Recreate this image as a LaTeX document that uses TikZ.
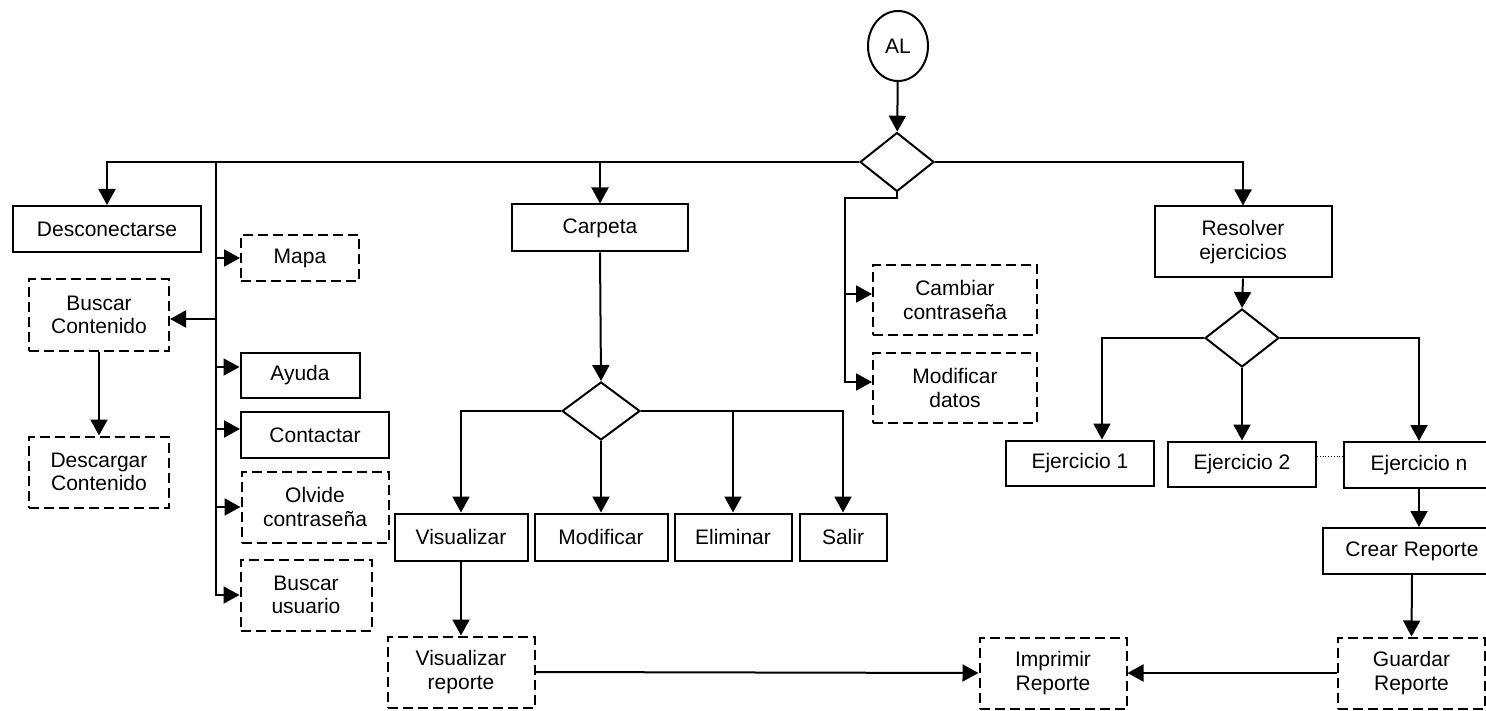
\documentclass[tikz,border=0pt]{standalone}
\usepackage{fontspec}
\setmainfont{Liberation Sans}
\usetikzlibrary{arrows.meta,shapes.geometric,calc}
\begin{document}
\begin{tikzpicture}[x=1pt,y=-1pt,
  line width=2pt,
  box/.style={draw,rectangle,inner sep=0pt,align=center,font=\fontsize{21}{23.5}\selectfont},
  dbox/.style={box,dash pattern=on 10pt off 5pt},
  dec/.style={draw,diamond,inner sep=0pt},
  arr/.style={-{Triangle[length=16pt,width=17pt]}}]
\useasboundingbox (0,0) rectangle (1486,711);
% nodes
\node[draw,ellipse,minimum width=60pt,minimum height=70pt,inner sep=0pt,font=\fontsize{21}{23.5}\selectfont] (al) at (898,46) {AL};
\node[dec,minimum width=74pt,minimum height=59pt] (d1) at (897,162) {};
\node[box,minimum width=188pt,minimum height=46pt] (desc) at (107,229) {Desconectarse};
\node[dbox,minimum width=118pt,minimum height=46pt] (mapa) at (300,258) {Mapa};
\node[dbox,minimum width=140pt,minimum height=72pt] (buscarc) at (99,315) {Buscar\\Contenido};
\node[dbox,minimum width=140pt,minimum height=71pt] (descarg) at (99,472) {Descargar\\Contenido};
\node[box,minimum width=119pt,minimum height=45pt] (ayuda) at (300,375) {Ayuda};
\node[box,minimum width=148pt,minimum height=46pt] (contactar) at (315,435) {Contactar};
\node[dbox,minimum width=147pt,minimum height=71pt] (olvide) at (315,507) {Olvide\\contraseña};
\node[dbox,minimum width=131pt,minimum height=71pt] (buscaru) at (306,595) {Buscar\\usuario};
\node[box,minimum width=176pt,minimum height=47pt] (carpeta) at (600,228) {Carpeta};
\node[dec,minimum width=78pt,minimum height=58pt] (d2) at (601,411) {};
\node[box,minimum width=133pt,minimum height=47pt] (visualizar) at (461,537) {Visualizar};
\node[box,minimum width=133pt,minimum height=47pt] (modificar) at (601,537) {Modificar};
\node[box,minimum width=117pt,minimum height=47pt] (eliminar) at (733,537) {Eliminar};
\node[box,minimum width=87pt,minimum height=47pt] (salir) at (843,537) {Salir};
\node[dbox,minimum width=147pt,minimum height=71pt] (visrep) at (461,672) {Visualizar\\reporte};
\node[dbox,minimum width=147pt,minimum height=71pt] (imprimir) at (1053,673) {Imprimir\\Reporte};
\node[dbox,minimum width=164pt,minimum height=70pt] (cambiar) at (955,300) {Cambiar\\contraseña};
\node[dbox,minimum width=164pt,minimum height=70pt] (moddatos) at (955,388) {Modificar\\datos};
\node[box,minimum width=177pt,minimum height=71pt] (resolver) at (1243,242) {Resolver\\ejercicios};
\node[dec,minimum width=74pt,minimum height=58pt] (d3) at (1242,338) {};
\node[box,minimum width=148pt,minimum height=45pt] (ej1) at (1080,463) {Ejercicio 1};
\node[box,minimum width=148pt,minimum height=45pt] (ej2) at (1242,464) {Ejercicio 2};
\node[box,minimum width=150pt,minimum height=46pt] (ejn) at (1419,465) {Ejercicio n};
\node[box,minimum width=178pt,minimum height=46pt] (crear) at (1412,551) {Crear Reporte};
\node[dbox,minimum width=147pt,minimum height=71pt] (guardar) at (1411.5,673) {Guardar\\Reporte};
\coordinate (tr) at (216,162);
\coordinate (jog) at (845,198);
% connectors
\draw[arr] (al) -- (d1);
\draw[arr] (d1.west) -| (desc.north);
\draw[arr] (tr) |- (buscaru.west);
\draw[arr] (tr |- mapa.west) -- (mapa.west);
\draw[arr] ([yshift=-4pt]tr |- buscarc.east) -- ([yshift=-4pt]buscarc.east);
\draw[arr] ([yshift=8pt]tr |- ayuda.west) -- ([yshift=8pt]ayuda.west);
\draw[arr] ([yshift=6pt]tr |- contactar.west) -- ([yshift=6pt]contactar.west);
\draw[arr] (tr |- olvide.west) -- (olvide.west);
\draw[arr] (buscarc.south) -- (descarg.north);
\draw[arr] (carpeta.north |- d1.west) -- (carpeta.north);
\draw[arr] (carpeta.south) -- (d2.north);
\draw[arr] (d2.west) -| (visualizar.north);
\draw[arr] (d2.south) -- (modificar.north);
\draw[arr] (d2.east) -| (salir.north);
\draw[arr] (eliminar.north |- d2.east) -- (eliminar.north);
\draw[arr] (visualizar.south) -- (visrep.north);
\draw[arr] (visrep.east) -- (imprimir.west);
\draw[arr] (d1.south) |- (jog) |- ([yshift=6pt]moddatos.west);
\draw[arr] ([yshift=6pt]jog |- cambiar.west) -- ([yshift=6pt]cambiar.west);
\draw[arr] (d1.east) -| (resolver.north);
\draw[arr] (resolver.south) -- (d3.north);
\draw[arr] (d3.west) -| ([xshift=22pt]ej1.north);
\draw[arr] (d3.south) -- (ej2.north);
\draw[arr] (d3.east) -| (ejn.north);
\draw[dotted,line width=0.8pt] ([yshift=8pt]ej2.east) -- ([yshift=8pt]ej2.east -| ejn.west);
\draw[arr] (ejn.south) -- (ejn.south |- crear.north);
\draw[arr] (crear.south) -- (guardar.north);
\draw[arr] (guardar.west) -- (imprimir.east);
\end{tikzpicture}
\end{document}
